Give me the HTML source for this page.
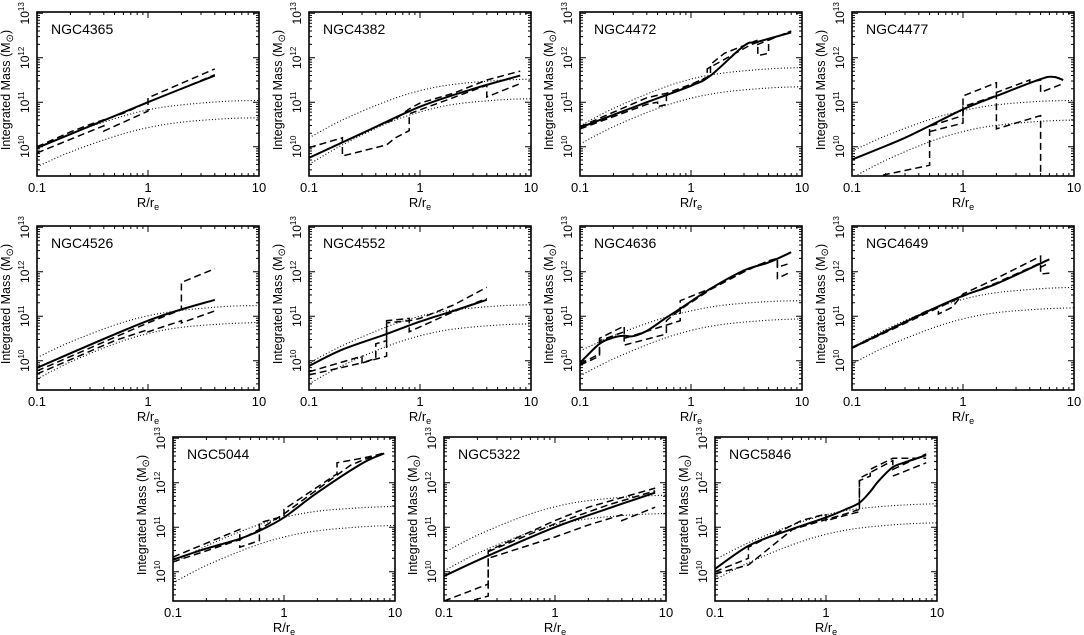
<!DOCTYPE html>
<html><head><meta charset="utf-8"><style>
html,body{margin:0;padding:0;background:#fff;}
svg{display:block;font-family:"Liberation Sans",sans-serif;}
</style></head><body>
<svg id="fig" width="1084" height="635" viewBox="0 0 1084 635" xmlns="http://www.w3.org/2000/svg"></svg>
<script>
// ---- data (log10 M in solar masses; R in units of r_e) ----
const galaxyNames = ["NGC4365","NGC4382","NGC4472","NGC4477","NGC4526","NGC4552","NGC4636","NGC4649","NGC5044","NGC5322","NGC5846"];
const solidR = [
 [0.1,1,4],
 [0.1,0.3,1,3,8],
 [0.1,0.4,1,1.5,3,4,8],
 [0.1,0.3,1,2,5,6.5,8],
 [0.1,1,4],
 [0.1,0.2,0.5,1,2,4],
 [0.1,0.15,0.2,0.25,0.3,0.4,0.6,0.8,1.5,3,5,8],
 [0.1,0.5,1,2,6],
 [0.1,0.2,0.4,0.6,1,2,5,8],
 [0.1,0.25,1,3,8],
 [0.1,0.2,0.4,1,1.5,2,2.5,3,4,5,8]
];
const solidM = [
 [9.97,11.0,11.6],
 [9.75,10.3,10.9,11.3,11.6],
 [10.43,11.0,11.37,11.6,12.27,12.36,12.57],
 [9.71,10.2,10.84,11.14,11.52,11.57,11.5],
 [9.84,10.9,11.37],
 [9.88,10.25,10.6,10.88,11.12,11.37],
 [9.95,10.38,10.52,10.56,10.55,10.67,10.97,11.17,11.62,12.03,12.21,12.44],
 [10.29,11.13,11.46,11.73,12.28],
 [10.27,10.52,10.74,10.92,11.22,11.78,12.43,12.66],
 [9.9,10.36,11.0,11.42,11.78],
 [10.06,10.58,10.88,11.22,11.4,11.55,11.8,12.05,12.35,12.45,12.62]
];
const dashedR = [
 [[0.1,0.4,0.4,1,1,4],[0.1,0.2,0.3,0.6,1,2,4]],
 [[0.1,0.2,0.2,0.5,0.6,0.8,0.8,4,4,8],[0.4,0.6,0.8,1,2,4,8]],
 [[0.1,0.4,0.6,1,1.5,1.5,2,4,4,8],[0.1,0.4,0.5,0.5,0.6,0.6,1.4,1.4,3.5,4,4,5,5,8]],
 [[0.19,0.5,0.5,1,1,2,2,5,5],[0.5,1,1,2,2,4,4,5,5,8]],
 [[0.1,1,2,2,4],[0.1,0.5,1,1,2,2,4]],
 [[0.1,0.3,0.3,0.4,0.4,0.5,0.5,0.8,0.8,1.2,2,4],[0.1,0.3,0.5,0.5,0.8,1,2,4]],
 [[0.1,0.15,0.15,0.25,0.25,0.6,0.8,0.8,1.6,2,4,6,6,8],[0.1,0.15,0.15,0.25,0.25,0.6,0.6,0.8,1.5,3,5,6,6,8]],
 [[0.1,0.5,0.6,0.6,0.8,1,2,5,5,6],[0.1,0.5,1,2,5,5,6]],
 [[0.1,0.4,0.4,0.6,0.6,1,1,3,3,5,8],[0.1,0.4,0.6,1,2,4,5,8]],
 [[0.1,0.25,0.25,1,2,8],[0.15,0.25,0.25,1,2,4,4,8],[0.25,1,3,8]],
 [[0.1,0.2,0.2,0.6,1,1,2,2,4,4,8],[0.1,0.2,0.5,1.5,2,2,2.5,2.5,4,8],[4,8]]
];
const dashedM = [
 [[9.86,10.47,10.35,10.8,11.1,11.75],[10.0,10.33,10.5,10.75,11.0,11.3,11.62]],
 [[9.98,10.2,9.79,10.04,10.2,10.36,10.74,11.38,11.12,11.42],[10.45,10.62,10.85,10.98,11.2,11.5,11.7]],
 [[10.45,11.1,11.2,11.4,11.6,11.85,12.1,12.4,12.3,12.6],[10.4,10.95,11.0,10.9,10.95,11.15,11.55,11.75,12.3,12.35,12.05,12.1,12.4,12.6]],
 [[9.36,9.58,10.46,10.7,11.14,11.44,10.4,10.7,9.3],[10.34,10.53,10.9,11.15,11.22,11.5,11.45,11.5,11.22,11.42]],
 [[9.77,10.85,11.15,11.76,12.07],[9.7,10.45,10.7,10.65,10.9,10.85,11.12]],
 [[9.75,10.1,9.95,10.05,10.38,10.45,10.9,10.95,10.65,10.85,11.1,11.4],[9.68,9.95,10.1,10.85,10.9,10.95,11.25,11.65]],
 [[9.93,10.15,10.5,10.78,10.5,10.8,10.9,11.35,11.65,11.8,12.15,12.3,12.1,12.2],[9.9,10.1,10.45,10.65,10.35,10.6,10.9,11.15,11.6,12.0,12.25,12.3,11.85,12.0]],
 [[10.3,11.15,11.2,11.05,11.2,11.5,11.85,12.35,12.1,12.2],[10.28,11.1,11.45,11.75,12.2,11.95,11.97]],
 [[10.33,10.95,10.55,10.7,11.1,11.25,11.4,12.2,12.45,12.55,12.66],[10.22,10.72,10.95,11.3,11.85,12.4,12.5,12.68]],
 [[9.34,9.72,10.47,11.15,11.45,11.88],[9.3,9.45,10.3,10.78,11.05,11.28,11.15,11.45],[10.45,11.08,11.5,11.82]],
 [[10.0,10.3,10.55,11.15,11.3,11.15,11.35,12.1,12.5,12.3,12.65],[9.95,10.15,10.95,11.3,11.4,12.05,12.15,12.3,12.55,12.55],[12.15,12.45]]
];
const dottedR = [0.1,0.2,0.5,1,2,5,10];
const dottedHiM = [
 [9.97,10.29,10.63,10.83,10.94,11.02,11.04],
 [10.2,10.6,11.02,11.26,11.4,11.49,11.52],
 [10.47,10.86,11.28,11.52,11.66,11.75,11.78],
 [9.9,10.24,10.61,10.81,10.94,11.02,11.04],
 [10.07,10.42,10.8,11.01,11.13,11.22,11.24],
 [9.95,10.34,10.76,11.0,11.14,11.23,11.26],
 [10.22,10.56,10.92,11.12,11.25,11.33,11.35],
 [10.29,10.7,11.13,11.38,11.53,11.62,11.65],
 [10.2,10.58,10.99,11.22,11.36,11.44,11.47],
 [10.43,10.82,11.23,11.46,11.6,11.69,11.72],
 [10.27,10.65,11.05,11.28,11.42,11.5,11.53]
];
const dottedLoM = [
 [9.55,9.88,10.23,10.43,10.55,10.63,10.65],
 [9.6,10.04,10.52,10.78,10.95,11.05,11.08],
 [10.06,10.45,10.86,11.09,11.23,11.32,11.35],
 [9.3,9.69,10.11,10.34,10.48,10.57,10.6],
 [9.59,9.97,10.38,10.61,10.75,10.83,10.86],
 [9.48,9.89,10.32,10.56,10.71,10.8,10.83],
 [9.66,10.04,10.45,10.68,10.82,10.91,10.94],
 [9.93,10.31,10.71,10.94,11.08,11.16,11.19],
 [9.75,10.14,10.55,10.78,10.92,11.01,11.04],
 [10.02,10.41,10.82,11.05,11.19,11.28,11.31],
 [9.82,10.2,10.61,10.84,10.98,11.07,11.1]
];
const xTickLabels = ["0.1","1","10"];
const yTickExps = ["10","11","12","13"];

// ---- layout ----
const NS = "http://www.w3.org/2000/svg";
const svg = document.getElementById('fig');
const PW = 222, PH = 164, YMIN = 9.34, YMAX = 13.03;
const panelPos = [[37,12],[309,12],[580,12],[852,12],[37,226],[309,226],[580,226],[852,226],[173,437],[444,437],[715,437]];

function mk(tag, attrs, parent){
  const e = document.createElementNS(NS, tag);
  for (const k in attrs) e.setAttribute(k, attrs[k]);
  parent.appendChild(e);
  return e;
}
function smoothPath(pts){
  if (pts.length < 3) return 'M' + pts.map(p=>p[0].toFixed(1)+','+p[1].toFixed(1)).join(' L');
  let d = 'M' + pts[0][0].toFixed(1) + ',' + pts[0][1].toFixed(1);
  for (let i=0;i<pts.length-1;i++){
    const p0 = pts[Math.max(0,i-1)], p1 = pts[i], p2 = pts[i+1], p3 = pts[Math.min(pts.length-1,i+2)];
    const c1 = [p1[0]+(p2[0]-p0[0])/6, p1[1]+(p2[1]-p0[1])/6];
    const c2 = [p2[0]-(p3[0]-p1[0])/6, p2[1]-(p3[1]-p1[1])/6];
    d += ' C' + c1[0].toFixed(1)+','+c1[1].toFixed(1)+' '+c2[0].toFixed(1)+','+c2[1].toFixed(1)+' '+p2[0].toFixed(1)+','+p2[1].toFixed(1);
  }
  return d;
}

galaxyNames.forEach((name, i) => {
  const L = panelPos[i][0], T = panelPos[i][1];
  const xs = r => L + (Math.log10(r) + 1) / 2 * PW;
  const ys = m => T + (YMAX - m) / (YMAX - YMIN) * PH;
  const g = mk('g', {}, svg);
  
  

  const clip = mk('clipPath', {id:'clip'+i}, g);
  mk('rect', {x:L, y:T, width:PW, height:PH}, clip);

  [dottedHiM[i], dottedLoM[i]].forEach((arr, k) => {
    const p = mk('path', {d: smoothPath(dottedR.map((r,j)=>[xs(r), ys(arr[j])])), fill:'none', stroke:'#000', 'stroke-width':1.1, 'stroke-dasharray':'1 2.2', 'clip-path':'url(#clip'+i+')'}, g);
    
    
  });
  dashedR[i].forEach((rs, k) => {
    const ms = dashedM[i][k];
    const d = 'M' + rs.map((r,j)=>xs(r).toFixed(1)+','+ys(ms[j]).toFixed(1)).join(' L');
    const p = mk('path', {d, fill:'none', stroke:'#000', 'stroke-width':1.5, 'stroke-dasharray':'7 4', 'clip-path':'url(#clip'+i+')'}, g);
    
    
  });
  const sp = mk('path', {d: smoothPath(solidR[i].map((r,j)=>[xs(r), ys(solidM[i][j])])), fill:'none', stroke:'#000', 'stroke-width':2, 'clip-path':'url(#clip'+i+')'}, g);
  
  

  const fr = mk('rect', {x:L, y:T, width:PW, height:PH, fill:'none', stroke:'#000', 'stroke-width':1.6}, g);
  
  

  let td = '';
  for (let dec=-1; dec<=1; dec++){
    for (let m=1; m<=9; m++){
      const r = m*Math.pow(10,dec);
      if (r > 10.001) continue;
      const x = xs(r), len = (m===1)?6:3;
      td += `M${x.toFixed(1)},${T+PH} v${-len} M${x.toFixed(1)},${T} v${len} `;
    }
  }
  for (let dec=9; dec<=13; dec++){
    for (let m=1; m<=9; m++){
      const v = dec + Math.log10(m);
      if (v < YMIN || v > YMAX+0.01) continue;
      const y = ys(v), len = (m===1)?6:3;
      td += `M${L},${y.toFixed(1)} h${len} M${L+PW},${y.toFixed(1)} h${-len} `;
    }
  }
  const tk = mk('path', {d: td, stroke:'#000', 'stroke-width':1, fill:'none'}, g);
  
  

  xTickLabels.forEach(lbl => {
    const t = mk('text', {x: xs(parseFloat(lbl)), y: T+PH+16, 'font-size':13, 'text-anchor':'middle'}, g);
    t.textContent = lbl;
    
    
  });
  yTickExps.forEach(ex => {
    const y = ys(parseFloat(ex));
    const t = mk('text', {x: L-8, y: y, 'font-size':12, 'text-anchor':'middle', transform:`rotate(-90 ${L-8} ${y.toFixed(1)})`}, g);
    
    
    const a = mk('tspan', {}, t); a.textContent = '10';
    const b = mk('tspan', {'font-size':8, dy:-5}, t); b.textContent = ex;
  });
  const cy = T + PH/2 - 4;
  const yt = mk('text', {x: L-27, y: cy, 'font-size':12.5, 'text-anchor':'middle', transform:`rotate(-90 ${L-27} ${cy})`}, g);
  
  
  const y1 = mk('tspan', {}, yt); y1.textContent = 'Integrated Mass (M';
  const y2 = mk('tspan', {'font-size':10, dy:3}, yt); y2.textContent = '⊙';
  const y3 = mk('tspan', {dy:-3}, yt); y3.textContent = ')';
  const xt = mk('text', {x: L+PW/2, y: T+PH+31, 'font-size':13, 'text-anchor':'middle'}, g);
  
  
  const x1 = mk('tspan', {}, xt); x1.textContent = 'R/r';
  const x2 = mk('tspan', {'font-size':9, dy:3}, xt); x2.textContent = 'e';
  const nm = mk('text', {x: L+14, y: T+22, 'font-size':14}, g);
  nm.textContent = name;
  
  
});
</script>
</body></html>
